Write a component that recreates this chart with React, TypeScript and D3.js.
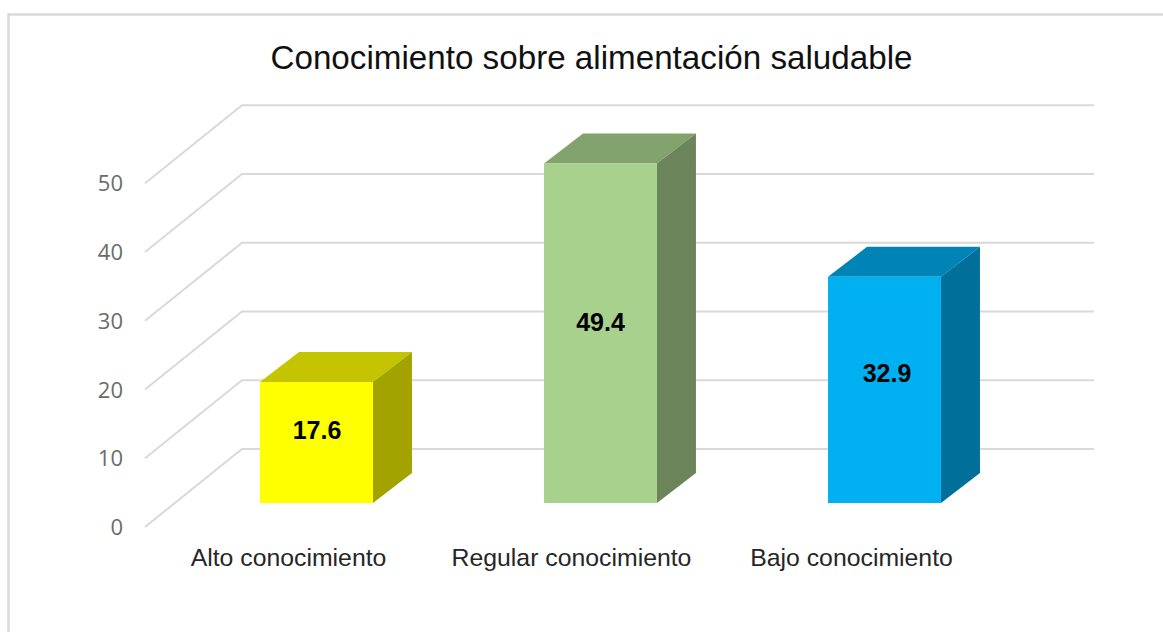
import React from "react";
import * as d3 from "d3";

const categories = ["Alto conocimiento", "Regular conocimiento", "Bajo conocimiento"];
const values = [17.6, 49.4, 32.9];
const ticks = [0, 10, 20, 30, 40, 50];
const frontColors = ["#FFFF00", "#A9D18E", "#00B0F0"];
const topColors = ["#C4C400", "#82A26E", "#0084B6"];
const sideColors = ["#A3A300", "#6B8459", "#006F9A"];

const W = 1163, H = 632;
const DX = 39, DY = -30;
const y = d3.scaleLinear().domain([0, 50]).range([503, 503 - 343.75]);
const x = d3.scaleBand<string>().domain(categories).range([174.5, 1026.5]).paddingInner(0.6024).paddingOuter(0.3012);
const gridY = (t: number) => y(t) + 24;
const poly = (pts: [number, number][]) => d3.line()(pts) + "Z";
const GRID = "#D9D9D9";
const SANS = "'Liberation Sans', Arial, sans-serif";
const catLabelShift = [-28, -29, -33];
const valLabelShift = [-3.5, -2, -8];
const valLabelShiftX = [0.5, 0, 2.5];

export default function App() {
  return (
    <svg width={W} height={H} viewBox={`0 0 ${W} ${H}`} style={{ position: "absolute", left: 0, top: 0, background: "#fff" }}>
      <path d={`M8.5 ${H}V14.5H${W}`} fill="none" stroke="#D9D9D9" strokeWidth={2.5} />
      <text x={591.5} y={68.5} textAnchor="middle" fontFamily={SANS} fontSize={33.2} fill="#111">
        Conocimiento sobre alimentación saludable
      </text>
      {ticks.map((t) => (
        <g key={t}>
          <path d={`M145 ${gridY(t)}L242 ${gridY(t) - 78}H1094`} fill="none" stroke={GRID} strokeWidth={2} />
          <text x={123} y={gridY(t) + 8} textAnchor="end" fontFamily="'Open Sans', sans-serif" fontSize={22} fill="#6b6b6b">{t}</text>
        </g>
      ))}
      {categories.map((c, i) => {
        const x0 = x(c)!;
        const bw = x.bandwidth();
        const x1 = x0 + bw;
        const top = y(values[i]);
        const base = y(0);
        return (
          <g key={c}>
            <path d={poly([[x0, top], [x0 + DX, top + DY], [x1 + DX, top + DY], [x1, top]])} fill={topColors[i]} />
            <path d={poly([[x1, top], [x1 + DX, top + DY], [x1 + DX, base + DY], [x1, base]])} fill={sideColors[i]} />
            <rect x={x0} y={top} width={bw} height={base - top} fill={frontColors[i]} />
            <text x={x0 + bw / 2 + valLabelShiftX[i]} y={(top + base) / 2 + valLabelShift[i]} textAnchor="middle" fontFamily={SANS} fontWeight="bold" fontSize={25} fill="#000">
              {values[i].toFixed(1)}
            </text>
            <text x={x0 + bw / 2 + catLabelShift[i]} y={566} textAnchor="middle" fontFamily={SANS} fontSize={24.8} fill="#262626">{c}</text>
          </g>
        );
      })}
    </svg>
  );
}
